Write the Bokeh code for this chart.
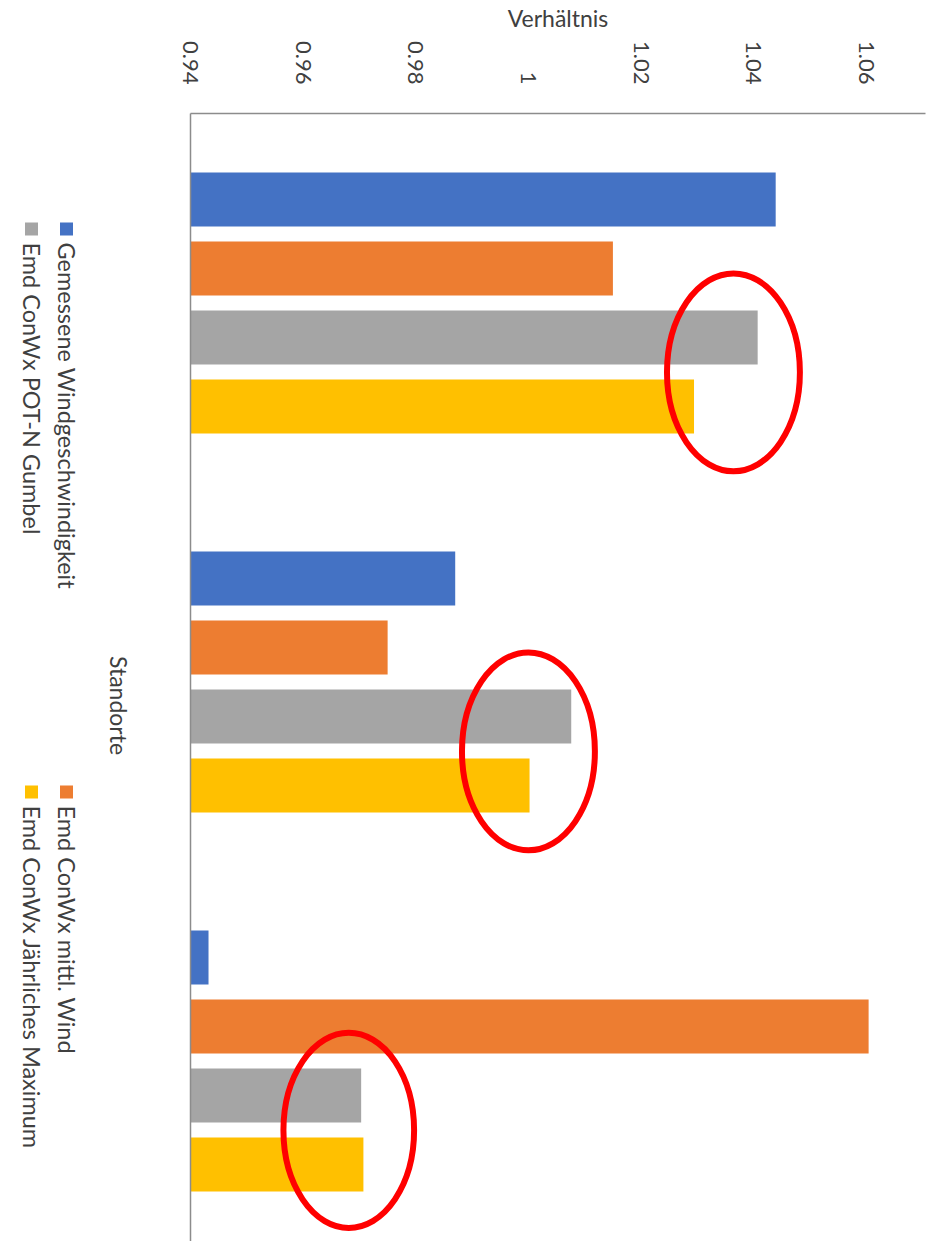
import math
from bokeh.plotting import figure
from bokeh.layouts import row
from bokeh.models import (Range1d, FixedTicker, ColumnDataSource,
                          NumeralTickFormatter)
from bokeh.core.properties import value
from bokeh.embed import file_html
from bokeh.resources import INLINE

# ---------------- data ----------------
groups = ["Standort 1", "Standort 2", "Standort 3"]
series = ["Gemessene Windgeschwindigkeit", "Emd ConWx mittl. Wind",
          "Emd ConWx POT-N Gumbel", "Emd ConWx Jährliches Maximum"]
colors = ["#4472C4", "#ED7D31", "#A5A5A5", "#FFC000"]
gemessen = [1.0439, 0.9870, 0.9432]
mittl_wind = [1.0150, 0.9750, 1.0604]
pot_n_gumbel = [1.0407, 1.0076, 0.9703]
jaehrl_max = [1.0294, 1.0002, 0.9707]
ticks = [0.94, 0.96, 0.98, 1.00, 1.02, 1.04, 1.06]
x_min, x_max = 0.94, 1.0705
value_title = "Verhältnis"
category_title = "Standorte"
# red highlight ellipses (value-axis centre per location)
highlight_x = [1.0364, 1.0000, 0.9681]

values = [gemessen, mittl_wind, pot_n_gumbel, jaehrl_max]

FONT = "Lato"
TXT = "#404040"
AXIS = "#8c8c8c"

W, H = 932, 1241
LEG_W = 150
TOP = 113
band_px = 379.0
frame_h = H - TOP

# ---------------- left strip: rotated legend + category title ----------------
# (its frame is aligned with the chart frame: page rows TOP..H)
q = figure(width=LEG_W, height=H, output_backend="svg", toolbar_location=None,
           x_range=Range1d(0, LEG_W), y_range=Range1d(H, TOP),
           x_axis_location=None, y_axis_location=None,
           min_border=0, min_border_top=TOP)
q.outline_line_color = None
q.xgrid.visible = False
q.ygrid.visible = False

leg_x = [66, 66, 31, 31]
leg_y = [222, 785, 222, 785]
q.rect(x=leg_x, y=[v + 6.5 for v in leg_y], width=13, height=13,
       fill_color=colors, line_color=None)
q.text(x=leg_x, y=[v + 20 for v in leg_y], text=series, angle=-math.pi / 2,
       text_align="left", text_baseline="middle", text_font=value(FONT),
       text_font_size="23.5px", text_color=TXT)
q.text(x=[118], y=[705], text=[category_title], angle=-math.pi / 2,
       text_align="center", text_baseline="middle", text_font=value(FONT),
       text_font_size="23px", text_color=TXT)

# ---------------- main chart ----------------
p = figure(width=W - LEG_W, height=H, output_backend="svg",
           toolbar_location=None,
           x_range=Range1d(x_min, x_max),
           y_range=Range1d(frame_h / band_px, 0),
           x_axis_location="above",
           min_border_left=190 - LEG_W, min_border_top=TOP,
           min_border_right=7, min_border_bottom=0)
p.outline_line_color = None
p.xgrid.visible = False
p.ygrid.visible = False

offsets = [-0.273, -0.091, 0.091, 0.273]
bar_h = 0.1425
for s, vals in enumerate(values):
    ys = [g + 0.5 + offsets[s] for g in range(len(groups))]
    src = ColumnDataSource(dict(y=ys, right=vals, left=[x_min] * len(vals)))
    p.hbar(y="y", left="left", right="right", height=bar_h, source=src,
           fill_color=colors[s], line_color=None)

ell = ColumnDataSource(dict(x=highlight_x,
                            y=[g + 0.5 + 0.183 for g in range(len(groups))],
                            w=[0.0236, 0.0236, 0.0232],
                            h=[0.522, 0.522, 0.515]))
p.ellipse(x="x", y="y", width="w", height="h", source=ell,
          fill_color=None, line_color="#FF0000", line_width=6)

ax = p.xaxis[0]
ax.ticker = FixedTicker(ticks=ticks)
ax.formatter = NumeralTickFormatter(format="0.[00]")
ax.major_label_orientation = -math.pi / 2
ax.major_tick_line_color = None
ax.minor_tick_line_color = None
ax.major_label_standoff = 23
ax.axis_line_color = AXIS
ax.axis_line_width = 1.5
ax.major_label_text_font = FONT
ax.major_label_text_font_size = "22px"
ax.major_label_text_color = TXT
ax.axis_label = value_title
ax.axis_label_text_font = FONT
ax.axis_label_text_font_size = "23px"
ax.axis_label_text_font_style = "normal"
ax.axis_label_text_color = TXT
ax.axis_label_standoff = 6

ay = p.yaxis[0]
ay.ticker = FixedTicker(ticks=[])
ay.major_tick_line_color = None
ay.minor_tick_line_color = None
ay.major_label_text_font_size = "0px"
ay.axis_line_color = AXIS
ay.axis_line_width = 1.5

layout = row(q, p, spacing=0)
open("out.html", "w").write(file_html(layout, INLINE))
